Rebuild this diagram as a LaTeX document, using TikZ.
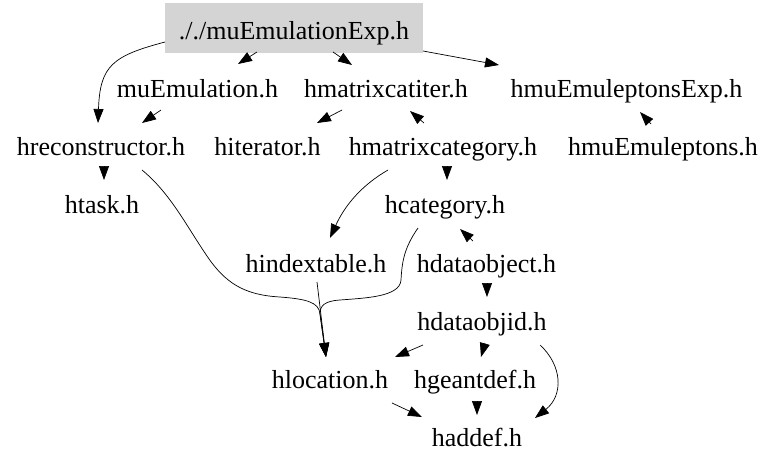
\documentclass[tikz,border=0pt]{standalone}
\usepackage{fontspec}
\setmainfont{Liberation Serif}
\usetikzlibrary{arrows.meta}
\begin{document}
\begin{tikzpicture}[x=1pt,y=-1pt,
  lbl/.style={inner sep=0pt,anchor=base,font=\fontsize{26}{30}\selectfont},
  rootbox/.style={fill=black!17,draw=none,minimum width=258pt,minimum height=50pt,inner sep=0pt,
    text height=22pt,text depth=0pt,font=\fontsize{26}{30}\selectfont},
  arr/.style={-{Triangle[length=14pt,width=10pt]},line width=0.7pt,black}]
\useasboundingbox (0,0) rectangle (779,467);
% nodes
\node[rootbox] (root) at (294,28) {././muEmulationExp.h};
\node[lbl] (muemu) at (197.5,97) {muEmulation.h};
\node[lbl] (hmcatiter) at (386,97) {hmatrixcatiter.h};
\node[lbl] (hmuexp) at (626.5,97) {hmuEmuleptonsExp.h};
\node[lbl] (hreco) at (101,155) {hreconstructor.h};
\node[lbl] (hiter) at (267.5,155) {hiterator.h};
\node[lbl] (hmcat) at (443,155) {hmatrixcategory.h};
\node[lbl] (hmulep) at (663,155) {hmuEmuleptons.h};
\node[lbl] (htask) at (102,213) {htask.h};
\node[lbl] (hcat) at (445,213) {hcategory.h};
\node[lbl] (hindex) at (316,272) {hindextable.h};
\node[lbl] (hdobj) at (486.5,272) {hdataobject.h};
\node[lbl] (hdobjid) at (482,330) {hdataobjid.h};
\node[lbl] (hloc) at (330,388) {hlocation.h};
\node[lbl] (hgeant) at (475,388) {hgeantdef.h};
\node[lbl] (haddef) at (477,446) {haddef.h};
% connector end points
\coordinate (e1a) at (257,52);  \coordinate (e1b) at (238,64);
\coordinate (e2a) at (333,52);  \coordinate (e2b) at (352,65);
\coordinate (e3a) at (423,51);  \coordinate (e3b) at (499,65);
\coordinate (e4a) at (165,42);  \coordinate (e4b) at (98,123);
\coordinate (e5a) at (161,110); \coordinate (e5b) at (142,123);
\coordinate (e6a) at (342,110); \coordinate (e6b) at (317,123);
\coordinate (e7a) at (424,123); \coordinate (e7b) at (410,111);
\coordinate (e8a) at (651,124); \coordinate (e8b) at (640,112);
\coordinate (e9a) at (104,166); \coordinate (e9b) at (104,180);
\coordinate (e10a) at (447,166); \coordinate (e10b) at (447,180);
\coordinate (e11a) at (388,170); \coordinate (e11b) at (330,238);
\coordinate (e12a) at (473,241); \coordinate (e12b) at (460,229);
\coordinate (e13a) at (418,228); \coordinate (e13b) at (326,357);
\coordinate (e14a) at (142,170);
\coordinate (e15a) at (317,282);
\coordinate (e16a) at (487,283); \coordinate (e16b) at (487,297);
\coordinate (e17a) at (423,345); \coordinate (e17b) at (395,357);
\coordinate (e18a) at (485,343); \coordinate (e18b) at (481,357);
\coordinate (e19a) at (540,345); \coordinate (e19b) at (535,418);
\coordinate (e20a) at (392,403); \coordinate (e20b) at (422,417);
\coordinate (e21a) at (477,401); \coordinate (e21b) at (477,415);
% connectors
\draw[arr] (e1a) -- (e1b);
\draw[arr] (e2a) -- (e2b);
\draw[arr] (e3a) -- (e3b);
\draw[arr] (e4a) .. controls (112,56) and (100,66) .. (e4b);
\draw[arr] (e5a) -- (e5b);
\draw[arr] (e6a) -- (e6b);
\draw[arr] (e7a) -- (e7b);
\draw[arr] (e8a) -- (e8b);
\draw[arr] (e9a) -- (e9b);
\draw[arr] (e10a) -- (e10b);
\draw[arr] (e11a) .. controls (362,185) and (345,205) .. (e11b);
\draw[arr] (e12a) -- (e12b);
\draw[arr] (e13a) .. controls (404,248) and (402,262) .. (401,280)
   .. controls (400,297) and (365,298) .. (340,300)
   .. controls (324,301) and (320,306) .. (320,314) -- (e13b);
\draw[arr] (e14a) .. controls (170,193) and (186,225) .. (205,253)
   .. controls (225,284) and (245,295) .. (280,297)
   .. controls (306,299) and (319,302) .. (320,314) -- (e13b);
\draw[arr] (e15a) -- (e13b);
\draw[arr] (e16a) -- (e16b);
\draw[arr] (e17a) -- (e17b);
\draw[arr] (e18a) -- (e18b);
\draw[arr] (e19a) .. controls (562,365) and (564,395) .. (e19b);
\draw[arr] (e20a) -- (e20b);
\draw[arr] (e21a) -- (e21b);
\end{tikzpicture}
\end{document}
